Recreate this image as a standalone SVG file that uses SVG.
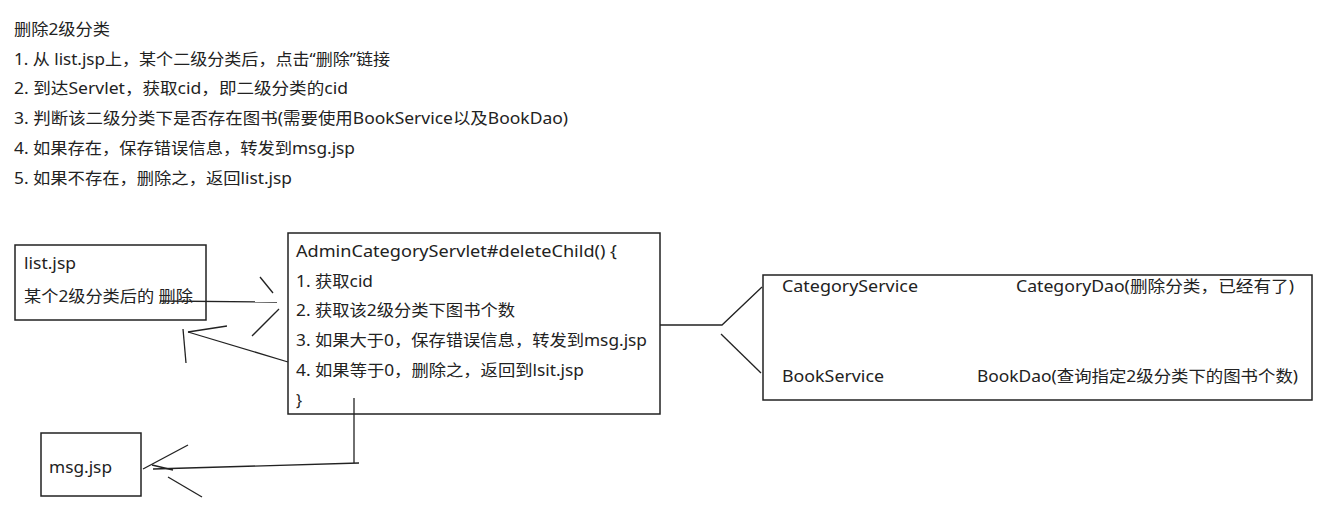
<svg xmlns="http://www.w3.org/2000/svg" width="1331" height="519" viewBox="0 0 1331 519">
<style>
text{font-family:"Noto Sans","Noto Sans CJK SC",sans-serif;font-size:16px;fill:#222}
.box{fill:#fff;stroke:#222;stroke-width:1.5}
.ln{fill:none;stroke:#222;stroke-width:1.3}
</style>
<rect width="1331" height="519" fill="#fff"/>
<g id="notes">
<text x="14" y="35" textLength="96" lengthAdjust="spacingAndGlyphs">删除2级分类</text>
<text x="14" y="65" textLength="376" lengthAdjust="spacingAndGlyphs">1. 从 list.jsp上，某个二级分类后，点击“删除”链接</text>
<text x="14" y="94" textLength="334" lengthAdjust="spacingAndGlyphs">2. 到达Servlet，获取cid，即二级分类的cid</text>
<text x="14" y="124" textLength="554" lengthAdjust="spacingAndGlyphs">3. 判断该二级分类下是否存在图书(需要使用BookService以及BookDao)</text>
<text x="14" y="154" textLength="341" lengthAdjust="spacingAndGlyphs">4. 如果存在，保存错误信息，转发到msg.jsp</text>
<text x="14" y="184" textLength="278" lengthAdjust="spacingAndGlyphs">5. 如果不存在，删除之，返回list.jsp</text>
</g>
<g id="listjsp">
<rect class="box" x="15" y="245" width="191" height="75"/>
<text x="24" y="269" textLength="52" lengthAdjust="spacingAndGlyphs">list.jsp</text>
<text x="24" y="302" textLength="169" lengthAdjust="spacingAndGlyphs">某个2级分类后的 删除</text>
</g>
<g id="servlet">
<rect class="box" x="288" y="233" width="372" height="181"/>
<text x="296" y="257" textLength="321" lengthAdjust="spacingAndGlyphs">AdminCategoryServlet#deleteChild() {</text>
<text x="296" y="287" textLength="77" lengthAdjust="spacingAndGlyphs">1. 获取cid</text>
<text x="296" y="316" textLength="219" lengthAdjust="spacingAndGlyphs">2. 获取该2级分类下图书个数</text>
<text x="296" y="346" textLength="351" lengthAdjust="spacingAndGlyphs">3. 如果大于0，保存错误信息，转发到msg.jsp</text>
<text x="296" y="376" textLength="288" lengthAdjust="spacingAndGlyphs">4. 如果等于0，删除之，返回到lsit.jsp</text>
<text x="296" y="406">}</text>
</g>
<g id="services">
<rect class="box" x="763" y="275" width="549" height="125"/>
<text x="782" y="292" textLength="136" lengthAdjust="spacingAndGlyphs">CategoryService</text>
<text x="1016" y="292" textLength="278" lengthAdjust="spacingAndGlyphs">CategoryDao(删除分类，已经有了)</text>
<text x="782" y="382" textLength="102" lengthAdjust="spacingAndGlyphs">BookService</text>
<text x="977" y="382" textLength="321" lengthAdjust="spacingAndGlyphs">BookDao(查询指定2级分类下的图书个数)</text>
</g>
<g id="msgjsp">
<rect class="box" x="41" y="433" width="100" height="63"/>
<text x="49" y="473" textLength="63" lengthAdjust="spacingAndGlyphs">msg.jsp</text>
</g>
<g id="connectors">
<path class="ln" d="M160 301 L277 302"/>
<path class="ln" d="M260 277 L273 293"/>
<path class="ln" d="M252 336 L279 309"/>
<path class="ln" d="M288 362 L188 332"/>
<path class="ln" d="M188 332 L227 326"/>
<path class="ln" d="M183 329 L186 363"/>
<path class="ln" d="M660 325 L722 325 L762 287"/>
<path class="ln" d="M721 334 L761 373"/>
<path class="ln" d="M354 398 L354 463"/>
<path class="ln" d="M359 463 L153 469"/>
<path class="ln" d="M143 469 L188 445"/>
<path class="ln" d="M152 465 L173 470"/>
<path class="ln" d="M168 477 L202 497"/>
</g>
</svg>
